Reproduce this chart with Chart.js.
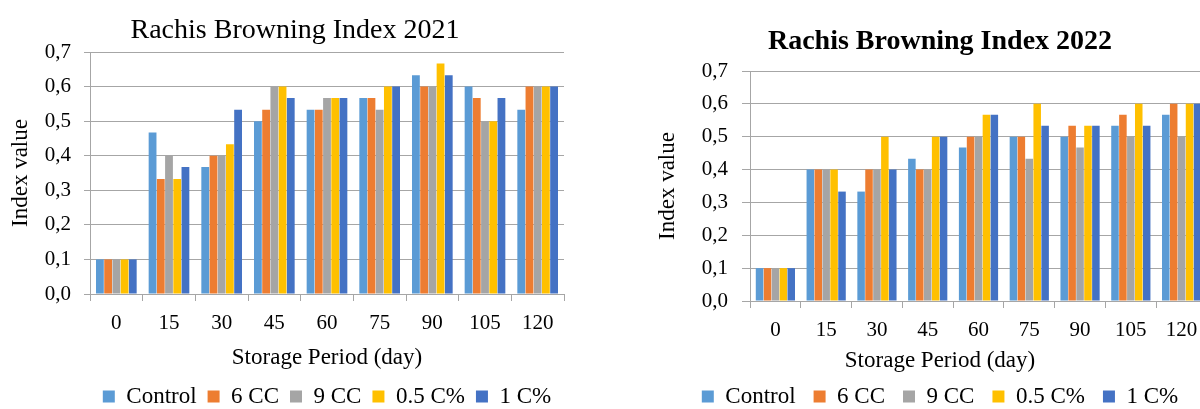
<!DOCTYPE html>
<html><head><meta charset="utf-8">
<script src="https://cdn.jsdelivr.net/npm/chart.js@4.4.1/dist/chart.umd.min.js"></script>
<style>
html,body{margin:0;padding:0;background:#fff;width:1200px;height:409px;overflow:hidden;position:relative;}
#w1{position:absolute;left:0;top:0;width:590px;height:418px;}
#w2{position:absolute;left:640px;top:0;width:600px;height:418px;}
</style></head><body>
<div id="w1"><canvas id="c1" width="590" height="418"></canvas></div>
<div id="w2"><canvas id="c2" width="600" height="418"></canvas></div>
<script>
// ---- data ----
const categories = ['0', '15', '30', '45', '60', '75', '90', '105', '120'];
const seriesNames = ['Control', '6 CC', '9 CC', '0.5 C%', '1 C%'];
const yTickLabels = ['0,0', '0,1', '0,2', '0,3', '0,4', '0,5', '0,6', '0,7'];

const control2021 = [0.1, 0.467, 0.367, 0.5, 0.533, 0.567, 0.633, 0.6, 0.533];
const cc6_2021    = [0.1, 0.333, 0.4, 0.533, 0.533, 0.567, 0.6, 0.567, 0.6];
const cc9_2021    = [0.1, 0.4, 0.4, 0.6, 0.567, 0.533, 0.6, 0.5, 0.6];
const c05_2021    = [0.1, 0.333, 0.433, 0.6, 0.567, 0.6, 0.667, 0.5, 0.6];
const c1_2021     = [0.1, 0.367, 0.533, 0.567, 0.567, 0.6, 0.633, 0.567, 0.6];

const control2022 = [0.1, 0.4, 0.333, 0.433, 0.467, 0.5, 0.5, 0.533, 0.567];
const cc6_2022    = [0.1, 0.4, 0.4, 0.4, 0.5, 0.5, 0.533, 0.567, 0.6];
const cc9_2022    = [0.1, 0.4, 0.4, 0.4, 0.5, 0.433, 0.467, 0.5, 0.5];
const c05_2022    = [0.1, 0.4, 0.5, 0.5, 0.567, 0.6, 0.533, 0.6, 0.6];
const c1_2022     = [0.1, 0.333, 0.4, 0.5, 0.567, 0.533, 0.533, 0.533, 0.6];

// ---- styles ----
const colors = ['#5B9BD5', '#ED7D31', '#A5A5A5', '#FFC000', '#4472C4'];
const gridColor = '#a6a6a6';
const serif = "'Liberation Serif', 'Times New Roman', serif";
Chart.defaults.font.family = serif;
Chart.defaults.color = '#000';

function buildDatasets(series) {
  return series.map((vals, i) => ({
    label: seriesNames[i],
    data: vals,
    backgroundColor: colors[i],
    borderWidth: 0,
    categoryPercentage: 0.78,
    barPercentage: 0.95
  }));
}

function makeChart(id, series, o) {
  const legendOpts = {
    position: 'bottom',
    fullSize: o.legendFull,
    labels: { boxWidth: 12, boxHeight: 12, padding: o.legendPad,
      font: { family: serif, size: 23 }, color: '#000' }
  };
  if (o.legendTitle) {
    legendOpts.title = { display: true, text: o.legendTitle, font: { family: serif, size: 23 }, color: '#000',
      padding: { top: 0, bottom: o.legendTitlePadB } };
  }
  return new Chart(document.getElementById(id), {
    type: 'bar',
    data: { labels: categories, datasets: buildDatasets(series) },
    options: {
      responsive: false,
      animation: false,
      devicePixelRatio: 1,
      layout: { padding: 0 },
      plugins: {
        title: { display: true, text: o.title, color: '#000',
          font: { family: serif, size: 28, weight: o.bold ? 'bold' : 'normal' },
          padding: { top: o.titlePadT, bottom: o.titlePadB } },
        legend: legendOpts,
        tooltip: { enabled: false }
      },
      scales: {
        x: {
          grid: { display: true, drawOnChartArea: false, drawTicks: true, tickLength: 7, color: gridColor },
          border: { display: true, color: gridColor, width: 1 },
          ticks: { font: { family: serif, size: 21 }, padding: o.xTickPad, color: '#000', maxRotation: 0, autoSkip: false },
          title: { display: !!o.xTitle, text: o.xTitle || '', font: { family: serif, size: 23 }, color: '#000',
            padding: { top: 0, bottom: o.xTitlePadB || 0 } },
          afterFit: s => { s.height = o.xHeight; }
        },
        y: {
          min: 0, max: 0.7,
          ticks: { stepSize: 0.1, font: { family: serif, size: 21 }, padding: o.yTickPad, color: '#000',
            callback: v => yTickLabels[Math.round(v * 10)] },
          grid: { color: gridColor, tickLength: o.yTickLen, drawTicks: true, lineWidth: 1 },
          border: { display: true, color: gridColor, width: 1 },
          title: { display: true, text: 'Index value', font: { family: serif, size: 23 }, color: '#000',
            padding: { top: o.yTitlePadT, bottom: 0 } },
          afterFit: s => { s.width = o.yWidth; }
        },
        yR: {
          type: 'linear', position: 'right', display: true, min: 0, max: 1,
          grid: { display: false }, border: { display: false }, ticks: { display: false },
          afterFit: s => { s.width = o.rightGap; }
        }
      }
    }
  });
}

makeChart('c1', [control2021, cc6_2021, cc9_2021, c05_2021, c1_2021], {
  title: 'Rachis Browning Index 2021', bold: false, titlePadT: 14.2, titlePadB: 4.2,
  legendFull: false, legendPad: 11,
  xTitle: 'Storage Period (day)', xTitlePadB: 2, xHeight: 80, xTickPad: 10,
  yWidth: 90, yTickPad: 13, yTickLen: 6, yTitlePadT: 7.2, rightGap: 26
});

makeChart('c2', [control2022, cc6_2022, cc9_2022, c05_2022, c1_2022], {
  title: 'Rachis Browning Index 2022', bold: true, titlePadT: 25.2, titlePadB: 12.2,
  legendFull: true, legendPad: 18, legendTitle: 'Storage Period (day)', legendTitlePadB: -9.6,
  xHeight: 48, xTickPad: 9.4,
  yWidth: 110, yTickPad: 14, yTickLen: 8, yTitlePadT: 14.2, rightGap: 33
});
</script>
</body></html>
